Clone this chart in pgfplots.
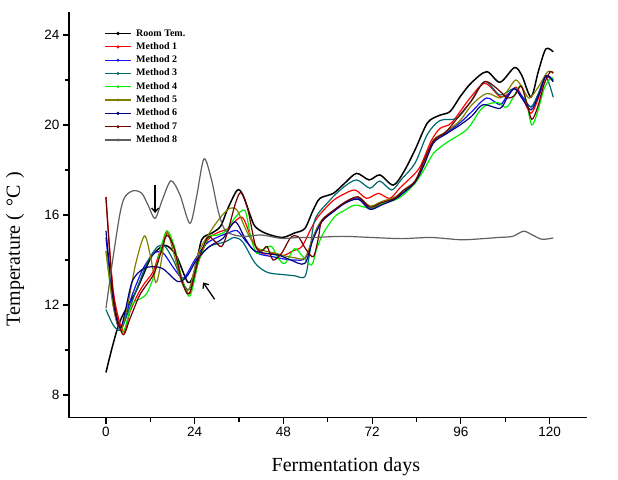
\documentclass[border=0pt]{standalone}
\usepackage{fontspec}
\setmainfont{Liberation Serif}
\newfontfamily\arialfont{Liberation Sans}
\usepackage{pgfplots}
\pgfplotsset{compat=1.18}
\usetikzlibrary{arrows.meta}
\definecolor{rt}{RGB}{0,0,0}
\definecolor{m1}{RGB}{255,0,0}
\definecolor{m2}{RGB}{20,20,235}
\definecolor{m3}{RGB}{0,105,110}
\definecolor{m4}{RGB}{0,240,0}
\definecolor{m5}{RGB}{128,128,0}
\definecolor{m6}{RGB}{0,0,128}
\definecolor{m7}{RGB}{110,0,0}
\definecolor{m8}{RGB}{95,95,95}
\begin{document}
\begin{tikzpicture}
\path[use as bounding box] (-69pt,-61.5pt) rectangle (549pt,417.5pt);
\begin{axis}[
  at={(0pt,0pt)}, anchor=south west,
  scale only axis, width=517.5pt, height=405pt,
  xmin=-10, xmax=130, ymin=7, ymax=25,
  axis x line*=bottom, axis y line*=left,
  axis line style={-, line width=1.3pt},
  xtick={0,24,...,120}, ytick={8,12,...,24},
  minor x tick num=1, minor y tick num=1,
  tick align=outside, major tick length=6pt, minor tick length=4pt,
  tick style={line width=1.2pt, black},
  tick label style={font=\arialfont\fontsize{13.5}{14}\selectfont},
  /pgf/number format/assume math mode=true,
  xlabel={Fermentation days}, ylabel={Temperature (\hspace{0.35em}°C\hspace{0.35em})},
  label style={font=\fontsize{20}{22}\selectfont},
  xlabel style={at={(axis description cs:0.535,-0.122)}, anchor=center},
  ylabel style={at={(axis description cs:-0.104,0.416)}, anchor=center},
  legend cell align=left,
  legend style={at={(axis description cs:0.068,0.962)}, anchor=north west, draw=none, fill=none,
    font=\bfseries\fontsize{10}{11}\selectfont, inner sep=0pt, row sep=2.3pt,
    nodes={inner sep=1pt, text height=7pt, text depth=2pt}},
  legend image code/.code={\draw[#1,line width=1.2pt] (0pt,0pt) -- (26pt,0pt); \fill[#1] (13pt,0pt) circle (0.8pt); \path (29.5pt,0pt);},
  every axis plot/.append style={line width=1.2pt, smooth, no markers},
]
\addplot[color=rt, line width=1.5pt] coordinates {(0,9.0)(1.5,10.0)(3.2,11.0)(4.7,11.6)(7.8,12.5)(10,13.3)(12.5,14.2)(16,14.65)(19,14.2)(22.2,13.0)(24,13.5)(25.9,14.9)(28.6,15.19)(31,15.5)(33,16.3)(35.5,17.1)(37,16.9)(39,16.0)(40.3,15.5)(43,15.2)(47.6,15.0)(51,15.2)(53.8,15.4)(56,16.2)(57.9,16.74)(61.5,16.96)(64.5,17.4)(67.8,17.85)(71.2,17.56)(74.1,17.78)(77.7,17.33)(80.5,17.9)(83.6,18.89)(87,20.1)(90.4,20.44)(93.1,20.6)(96,21.3)(99,21.9)(103,22.37)(106.6,21.9)(110.5,22.55)(112.5,22.2)(115,21.25)(117,22.4)(119,23.38)(121,23.25)};
\addlegendentry{Room Tem.}
\addplot[color=m1] coordinates {(0,16.8)(2,12.6)(4.7,10.8)(6.5,11.7)(8.7,12.5)(10.5,12.98)(12.8,13.5)(14.8,14.5)(16.6,15.2)(18.5,14.5)(20.5,13.2)(22.7,12.5)(25,13.9)(27.6,14.9)(30,15.2)(33,15.4)(36.8,15.9)(39.5,14.9)(42.2,14.3)(45,14.3)(48,14.2)(50.5,14.4)(53,14.6)(55.5,15.4)(57.4,15.93)(61.1,16.59)(64,16.9)(67.4,17.11)(70.5,16.74)(73.7,16.96)(76.8,16.74)(79.5,17.2)(82.7,17.7)(85,18.15)(88,19.3)(90.4,19.85)(93.5,20.1)(98.5,21.2)(102.5,21.85)(106.6,21.26)(109,21.4)(111,21.68)(113,21.1)(115,20.52)(117,21.2)(119,22.15)(121,21.93)};
\addlegendentry{Method 1}
\addplot[color=m2] coordinates {(0,15.0)(2,12.0)(4,10.9)(7,12.4)(10,13.6)(13,14.3)(15.5,14.3)(18.5,13.6)(21,13.2)(24,14.0)(27,14.7)(30,15.0)(33,15.2)(35.5,15.3)(38,14.8)(41,14.3)(45,14.15)(48,14.05)(51,14.0)(54,14.1)(56.5,15.2)(58.4,15.75)(61.9,16.2)(65,16.6)(68.3,16.75)(71.4,16.3)(74.6,16.5)(78.2,16.72)(80.5,17.0)(83.6,17.45)(86,18.3)(88.6,19.3)(92,19.65)(95.8,20.1)(99,20.6)(103,21.2)(106.6,20.9)(108.5,21.3)(110.5,21.6)(112.5,21.3)(115,20.8)(117,21.4)(119,22.2)(121,22.0)};
\addlegendentry{Method 2}
\addplot[color=m3] coordinates {(0,11.8)(2,11.1)(4,10.9)(6.5,11.9)(9,13.0)(11.5,14.0)(14,14.6)(16,14.6)(18.5,13.9)(20.5,13.1)(22.5,12.7)(25,14.0)(28,14.6)(32.2,14.8)(34.7,15.0)(37,14.8)(40.3,13.87)(43,13.5)(45,13.4)(48,13.35)(51,13.3)(53.8,13.26)(55,14.2)(56.5,15.78)(60.2,16.59)(64,17.2)(67.8,17.56)(71.4,17.19)(74.1,17.51)(77.3,17.11)(80,17.6)(83.6,18.3)(87,19.6)(90.4,20.2)(94.9,20.3)(98.5,21.0)(102.5,21.93)(106.6,21.33)(110.5,21.63)(112.5,21.2)(115,20.8)(117,21.4)(119,22.15)(121,21.23)};
\addlegendentry{Method 3}
\addplot[color=m4] coordinates {(0,14.4)(2,12.0)(4.5,10.8)(7,12.0)(9.5,12.3)(11,12.5)(13,13.3)(14.8,14.5)(16.5,15.3)(18.5,14.6)(20.5,13.2)(22.7,12.4)(25,13.9)(27.7,15.0)(30,15.1)(32.5,15.3)(35,15.9)(37.6,16.2)(39.2,15.0)(40.8,14.3)(42.8,14.5)(44.8,14.6)(46.5,14.1)(48.4,13.85)(51,14.5)(53,14.2)(55.6,13.78)(57,14.5)(58.8,15.19)(61.9,15.93)(64.5,16.2)(67.4,16.44)(71.4,16.3)(74.5,16.5)(78.2,16.67)(80.5,16.9)(83.6,17.41)(86,18.0)(88.6,18.74)(92,19.2)(97.6,19.8)(101,20.6)(103,20.9)(106,21.0)(108.5,20.8)(111.5,21.63)(112.5,21.73)(113.8,21.0)(115.2,20.0)(116.8,20.6)(118.5,21.6)(120.2,22.07)(121,22.07)};
\addlegendentry{Method 4}
\addplot[color=m5] coordinates {(0,14.4)(2,11.9)(4,10.9)(6,12.1)(8,13.8)(10.4,15.07)(12,14.2)(13.5,13.0)(14.8,13.8)(16.4,15.25)(18.5,14.2)(20.5,13.0)(22.5,12.7)(25,14.3)(28,15.2)(31,15.9)(33.5,16.3)(35.5,16.2)(38,15.3)(40.5,14.6)(43,14.4)(46,14.3)(48,14.2)(51,14.1)(53.8,14.1)(56,15.0)(58.4,15.78)(61.9,16.22)(65,16.6)(68.3,16.8)(71.4,16.4)(74.6,16.6)(78.2,16.8)(80.5,17.1)(83.6,17.5)(86,18.3)(88.6,19.33)(92,19.7)(95.8,20.2)(99,20.9)(103,21.4)(106.6,21.2)(108.5,21.5)(110.8,22.0)(112.5,21.7)(114.5,21.19)(117,21.7)(119.5,22.37)(121,22.3)};
\addlegendentry{Method 5}
\addplot[color=m6] coordinates {(0,15.3)(2,12.2)(4,11.0)(7,13.0)(10,13.6)(12.8,13.7)(15.5,13.6)(19.5,13.04)(22,13.3)(24.5,14.0)(28,14.6)(31.7,14.97)(34.9,15.7)(37.5,15.0)(39.9,14.44)(43,14.3)(47,14.2)(50,14.0)(53.8,13.85)(56,14.9)(58.4,15.7)(61.9,16.2)(65,16.55)(68.3,16.7)(71.4,16.25)(74.6,16.45)(78.2,16.7)(80.5,17.0)(83.6,17.45)(86,18.2)(88.6,19.2)(92,19.6)(95.8,20.0)(99,20.4)(102,20.9)(106.6,20.74)(108.5,21.2)(110.5,21.63)(112.5,21.2)(115,20.67)(117,21.3)(119,22.18)(121,21.93)};
\addlegendentry{Method 6}
\addplot[color=m7] coordinates {(0,16.8)(2,12.4)(4.5,10.7)(6.5,11.4)(9,12.4)(11,12.9)(13,13.4)(14.8,14.3)(16.5,15.1)(18.5,14.5)(20.5,13.1)(22.5,12.5)(25,14.0)(27.5,15.0)(29,14.9)(31.3,14.6)(33,15.3)(35,16.5)(36.5,17.0)(38.3,16.3)(40.5,14.6)(42.2,14.4)(43.6,14.6)(45.2,14.0)(47.5,14.3)(50,15.0)(52,15.04)(54,14.5)(56.1,14.15)(57.5,15.0)(58.4,15.75)(61.9,16.25)(65,16.6)(68.3,16.8)(71.4,16.35)(74.6,16.55)(78.2,16.75)(80.5,17.1)(83.6,17.5)(86,18.4)(88.6,19.3)(92,19.7)(96,20.5)(99,21.1)(102.5,21.93)(106.6,21.5)(108.5,21.2)(110.5,21.3)(112.3,21.73)(113.8,21.0)(115.2,20.25)(116.8,20.8)(118.5,21.8)(120.2,22.37)(121,22.3)};
\addlegendentry{Method 7}
\addplot[color=m8] coordinates {(0,11.85)(2,14.2)(3.8,16.07)(5.1,16.8)(7.4,17.08)(9.7,16.96)(11.5,16.4)(13.3,15.85)(15.3,16.7)(17.6,17.52)(20,16.9)(22.7,15.63)(24.5,16.8)(26.5,18.49)(28.5,17.6)(30.4,16.15)(32.2,15.33)(35,15.1)(38,15.05)(42.1,15.11)(47.5,14.96)(52,15.0)(56,15.0)(64,15.05)(72,15.0)(80,14.95)(88,15.0)(96,14.9)(102,14.95)(106,15.0)(110,15.05)(113,15.28)(115.5,15.1)(118,14.92)(121,14.98)};
\addlegendentry{Method 8}
\draw[line width=1.3pt, -{Straight Barb[length=4pt,width=7pt]}] (axis cs:13.3,17.33) -- (axis cs:13.3,16.09);
\draw[line width=1.3pt, -{Straight Barb[length=4pt,width=7pt]}] (axis cs:29.4,12.25) -- (axis cs:26.3,13.0);
\end{axis}
\end{tikzpicture}
\end{document}
